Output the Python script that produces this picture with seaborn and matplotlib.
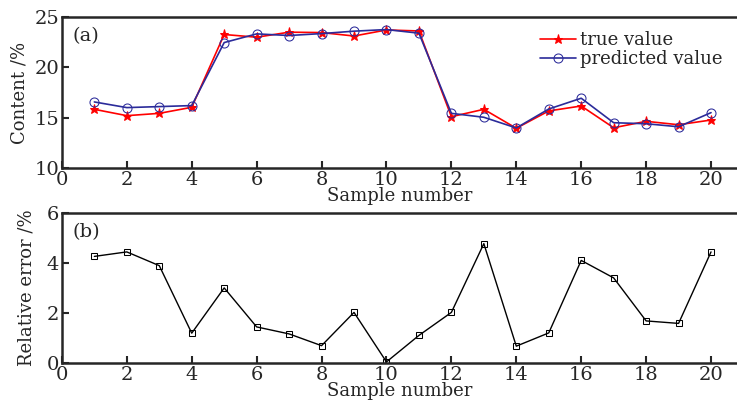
import numpy as np
import pandas as pd
import matplotlib.pyplot as plt
import seaborn as sns

sample = list(range(1, 21))
true_value = [15.83, 15.2, 15.43, 16.03, 23.25, 22.98, 23.48, 23.44, 23.1, 23.7,
              23.6, 15.1, 15.83, 13.95, 15.67, 16.16, 14.0, 14.64, 14.3, 14.77]
pred_value = [16.56, 16.0, 16.1, 16.2, 22.45, 23.31, 23.15, 23.34, 23.58, 23.74,
              23.38, 15.43, 15.04, 13.98, 15.86, 16.93, 14.5, 14.4, 14.1, 15.5]
rel_error = [4.26, 4.44, 3.89, 1.19, 3.0, 1.44, 1.16, 0.69, 2.02, 0.04,
             1.1, 2.02, 4.77, 0.67, 1.2, 4.1, 3.4, 1.68, 1.58, 4.44]

sns.set_style("ticks")
plt.rcParams['font.family'] = ['DejaVu Serif']
plt.rcParams['font.size'] = 14

fig = plt.figure(figsize=(7.37, 4.11), dpi=100)
ax1 = fig.add_axes([0.084, 0.591, 0.916, 0.368])
ax2 = fig.add_axes([0.084, 0.117, 0.916, 0.365])

sns.lineplot(x=sample, y=true_value, ax=ax1, color='red', marker='*', markersize=6.5,
             markeredgecolor='red', lw=1.2, label='true value')
sns.lineplot(x=sample, y=pred_value, ax=ax1, color='#2b2b9a', marker='o', markersize=6.5,
             markerfacecolor='none', markeredgecolor='#2b2b9a', lw=1.2, label='predicted value')
sns.lineplot(x=sample, y=rel_error, ax=ax2, color='black', marker='s', markersize=4.5,
             markerfacecolor='none', markeredgecolor='black', lw=1.0, legend=False)

ax1.set_ylim(10, 25)
ax1.set_yticks([10, 15, 20, 25])
ax2.set_ylim(0, 6)
ax2.set_yticks([0, 2, 4, 6])
for ax in (ax1, ax2):
    ax.set_xlim(0, 20.8)
    ax.set_xticks(range(0, 21, 2))
    ax.tick_params(direction='in', length=5, width=1.5, labelsize=14, pad=2)
    ax.spines['right'].set_visible(False)
    for s in ('left', 'top', 'bottom'):
        ax.spines[s].set_linewidth(1.8)
    ax.set_xlabel('Sample number', fontsize=13, labelpad=-1)

ax1.set_ylabel('Content /%', fontsize=13, labelpad=4)
ax2.set_ylabel('Relative error /%', fontsize=13, labelpad=8)
ax1.text(0.015, 0.93, '(a)', transform=ax1.transAxes, fontsize=14, va='top')
ax2.text(0.015, 0.93, '(b)', transform=ax2.transAxes, fontsize=14, va='top')

ax1.legend(loc='upper right', frameon=False, fontsize=13, handlelength=2.0,
           handletextpad=0.2, labelspacing=0.05, borderaxespad=0.4)

fig.savefig('out.png', dpi=100)
